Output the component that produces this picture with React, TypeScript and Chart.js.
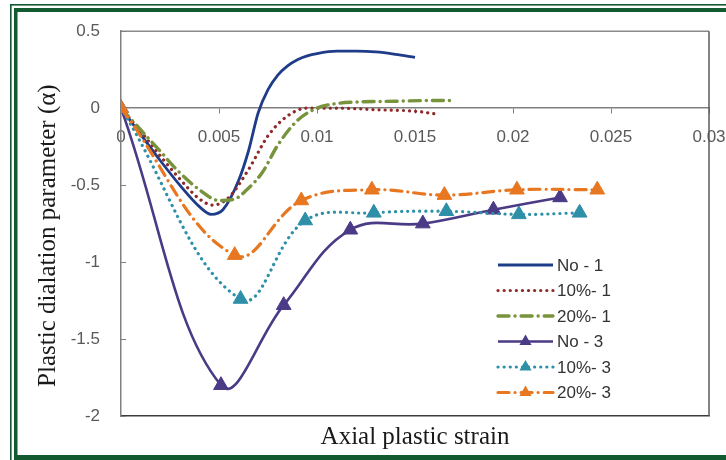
import React, { useEffect, useRef } from 'react';
import { Chart, registerables } from 'chart.js';

Chart.register(...registerables);

// ---- data ----
const seriesLabels = ['No - 1', '10%- 1', '20%- 1', 'No - 3', '10%- 3', '20%- 3'];

const no1X = [0, 0.001, 0.002, 0.003, 0.004, 0.0046, 0.0052, 0.006, 0.0065, 0.007, 0.0075, 0.008, 0.0085, 0.009, 0.0095, 0.010, 0.011, 0.012, 0.013, 0.014, 0.015];
const no1Y = [0, -0.17, -0.34, -0.50, -0.64, -0.69, -0.66, -0.47, -0.28, -0.03, 0.12, 0.215, 0.275, 0.315, 0.34, 0.355, 0.37, 0.37, 0.365, 0.35, 0.33];

const p10s1X = [0, 0.001, 0.002, 0.003, 0.004, 0.0047, 0.0055, 0.0065, 0.0075, 0.0085, 0.0095, 0.011, 0.013, 0.015, 0.0162];
const p10s1Y = [0, -0.15, -0.31, -0.46, -0.59, -0.63, -0.58, -0.40, -0.18, -0.05, 0.0, 0.0, -0.01, -0.02, -0.04];

const p20s1X = [0, 0.001, 0.002, 0.003, 0.004, 0.005, 0.0058, 0.0065, 0.0072, 0.008, 0.009, 0.010, 0.011, 0.012, 0.014, 0.016, 0.017];
const p20s1Y = [0, -0.14, -0.28, -0.42, -0.53, -0.60, -0.59, -0.52, -0.42, -0.24, -0.08, 0.0, 0.03, 0.04, 0.045, 0.05, 0.05];

const no3X = [0, 0.0051, 0.0083, 0.0117, 0.0154, 0.0190, 0.0224];
const no3Y = [0, -1.80, -1.28, -0.79, -0.75, -0.66, -0.58];

const p10s3X = [0, 0.0061, 0.0094, 0.0129, 0.0166, 0.0203, 0.0234];
const p10s3Y = [0, -1.24, -0.73, -0.68, -0.67, -0.69, -0.68];

const p20s3X = [0, 0.0058, 0.0092, 0.0128, 0.0165, 0.0202, 0.0243];
const p20s3Y = [0, -0.955, -0.60, -0.53, -0.565, -0.53, -0.53];

const xTickLabels = ['0', '0.005', '0.01', '0.015', '0.02', '0.025', '0.03'];
const yTickLabels = ['-2', '-1.5', '-1', '-0.5', '0', '0.5'];
const xTitle = 'Axial plastic strain';
const yTitle = 'Plastic dialation parameter (α)';

// ---- styles ----
const seriesX = [no1X, p10s1X, p20s1X, no3X, p10s3X, p20s3X];
const seriesY = [no1Y, p10s1Y, p20s1Y, no3Y, p10s3Y, p20s3Y];
const seriesColors = ['#1F3C88', '#8E2A2A', '#77933C', '#4B3A86', '#2E8FA8', '#E87722'];
const seriesDash: number[][] = [[], [0.1, 6], [11, 6, 0.1, 6], [], [0.1, 6], [11, 6, 0.1, 6]];
const seriesWidth = [2.8, 3.2, 3.4, 2.6, 3.2, 3.2];
const seriesMarker = [false, false, false, true, true, true];
const GREEN = '#135A30';
const SERIF = '"Liberation Serif", "Times New Roman", serif';
const SANS = '"Liberation Sans", Arial, sans-serif';

const zip = (xs: number[], ys: number[]) => xs.map((x, i) => ({ x, y: ys[i] }));

function drawTriangle(ctx: CanvasRenderingContext2D, x: number, y: number, r: number, color: string) {
  ctx.beginPath();
  for (let k = 0; k < 3; k++) {
    const a = -Math.PI / 2 + (k * 2 * Math.PI) / 3;
    const px = x + Math.cos(a) * r;
    const py = y + Math.sin(a) * r;
    if (k === 0) ctx.moveTo(px, py); else ctx.lineTo(px, py);
  }
  ctx.closePath();
  ctx.fillStyle = color;
  ctx.fill();
}

const framePlugin = {
  id: 'framePlugin',
  beforeDraw(chart: any) {
    const { ctx, width, height } = chart;
    ctx.save();
    ctx.fillStyle = '#ffffff';
    ctx.fillRect(0, 0, width, height);
    ctx.fillStyle = GREEN;
    ctx.fillRect(10, 4, width, 1.6);
    ctx.fillRect(10, 4, 1.6, height);
    ctx.fillRect(14, 8, width, 4);
    ctx.fillRect(14, 8, 3.5, height);
    ctx.fillRect(14, 455, width, 6);
    ctx.restore();
  },
  beforeDatasetsDraw(chart: any) {
    const { ctx, chartArea: a, scales } = chart;
    ctx.save();
    ctx.lineWidth = 1.5;
    ctx.strokeStyle = '#8a8a8a';
    ctx.beginPath();
    ctx.moveTo(a.left, a.top);
    ctx.lineTo(a.right, a.top);
    ctx.stroke();
    ctx.strokeStyle = '#5a5a5a';
    ctx.beginPath();
    ctx.moveTo(a.right, a.top);
    ctx.lineTo(a.right, a.bottom);
    ctx.stroke();
    // inner ticks on y axis
    ctx.strokeStyle = '#808080';
    ctx.lineWidth = 1;
    scales.y.ticks.forEach((t: any) => {
      const py = Math.round(scales.y.getPixelForValue(t.value)) + 0.5;
      ctx.beginPath();
      ctx.moveTo(a.left, py);
      ctx.lineTo(a.left + 5, py);
      ctx.stroke();
    });
    // y axis title
    ctx.translate(48, (a.top + a.bottom) / 2 + 12);
    ctx.rotate(-Math.PI / 2);
    ctx.font = `25px ${SERIF}`;
    ctx.fillStyle = '#1a1a1a';
    ctx.textAlign = 'center';
    ctx.textBaseline = 'middle';
    ctx.fillText(yTitle, 0, 0);
    ctx.restore();
  },
  afterDraw(chart: any) {
    const { ctx, chartArea: a } = chart;
    ctx.save();
    const x1 = a.right - 211;
    const x2 = a.right - 156;
    const tx = a.right - 152;
    const y0 = a.bottom - 151;
    const step = 25.5;
    ctx.font = `17px ${SANS}`;
    ctx.textBaseline = 'middle';
    ctx.textAlign = 'left';
    seriesLabels.forEach((label, i) => {
      const y = y0 + i * step;
      ctx.strokeStyle = seriesColors[i];
      ctx.lineWidth = seriesWidth[i];
      ctx.lineCap = seriesDash[i].length ? 'round' : 'butt';
      ctx.setLineDash(seriesDash[i]);
      ctx.beginPath();
      ctx.moveTo(x1, y);
      ctx.lineTo(x2, y);
      ctx.stroke();
      ctx.setLineDash([]);
      if (seriesMarker[i]) drawTriangle(ctx, (x1 + x2) / 2, y, 7, seriesColors[i]);
      ctx.fillStyle = '#333333';
      ctx.fillText(label, tx, y + 1);
    });
    ctx.restore();
  },
};

export default function App() {
  const ref = useRef<HTMLCanvasElement | null>(null);

  useEffect(() => {
    document.body.style.margin = '0';
    const canvas = ref.current;
    if (!canvas) return;

    const datasets = seriesLabels.map((label, i) => ({
      label,
      data: zip(seriesX[i], seriesY[i]),
      xAxisID: 'x',
      yAxisID: 'y',
      borderColor: seriesColors[i],
      backgroundColor: seriesColors[i],
      borderWidth: seriesWidth[i],
      borderDash: seriesDash[i],
      borderCapStyle: seriesDash[i].length ? 'round' : 'butt',
      borderJoinStyle: 'round',
      tension: 0.4,
      cubicInterpolationMode: seriesMarker[i] ? 'default' : 'monotone',
      fill: false,
      pointStyle: 'triangle',
      pointRadius: seriesMarker[i] ? 8.5 : 0,
      pointBackgroundColor: seriesColors[i],
      pointBorderColor: seriesColors[i],
      pointBorderWidth: 1,
      order: seriesLabels.length - i,
    }));

    const tickFont = { family: SANS, size: 17 };

    const chart = new Chart(canvas, {
      type: 'line',
      data: { datasets } as any,
      options: {
        animation: false,
        responsive: false,
        maintainAspectRatio: false,
        layout: { padding: { top: 26, right: 17, left: 0, bottom: 0 } },
        plugins: { legend: { display: false }, tooltip: { enabled: false } },
        scales: {
          x: {
            type: 'linear',
            min: 0,
            max: 0.03,
            position: { y: 0 } as any,
            ticks: {
              stepSize: 0.005,
              padding: 14,
              color: '#595959',
              font: tickFont,
              maxRotation: 0,
              autoSkip: false,
              callback: (_v: any, i: number) => xTickLabels[i],
            },
            grid: { display: true, drawOnChartArea: false, drawTicks: true, tickLength: 5, color: '#808080', lineWidth: 1 },
            border: { display: true, color: '#808080', width: 1.5 },
            afterFit: (s: any) => { s.height = 0; s.paddingLeft = 0; s.paddingRight = 0; },
          },
          x2: {
            type: 'linear',
            position: 'bottom',
            min: 0,
            max: 0.03,
            ticks: { display: false },
            grid: { display: true, drawOnChartArea: false, drawTicks: false },
            border: { display: true, color: '#3c3c3c', width: 1.5 },
            title: {
              display: true,
              text: xTitle,
              font: { family: SERIF, size: 25 },
              color: '#1a1a1a',
              padding: { top: 0, bottom: 8 },
            },
            afterFit: (s: any) => { s.height = 44; s.paddingLeft = 0; s.paddingRight = 0; },
          },
          y: {
            type: 'linear',
            position: 'left',
            min: -2,
            max: 0.5,
            ticks: {
              stepSize: 0.5,
              padding: 21,
              color: '#595959',
              font: tickFont,
              callback: (_v: any, i: number) => yTickLabels[i],
            },
            grid: { display: true, drawOnChartArea: false, drawTicks: false },
            border: { display: true, color: '#808080', width: 1.5 },
            afterFit: (s: any) => { s.width = 121; },
          },
        },
      } as any,
      plugins: [framePlugin],
    });

    return () => chart.destroy();
  }, []);

  return (
    <div style={{ width: 726, height: 460, position: 'relative' }}>
      <canvas ref={ref} width={726} height={460} style={{ display: 'block', width: 726, height: 460 }} />
    </div>
  );
}
